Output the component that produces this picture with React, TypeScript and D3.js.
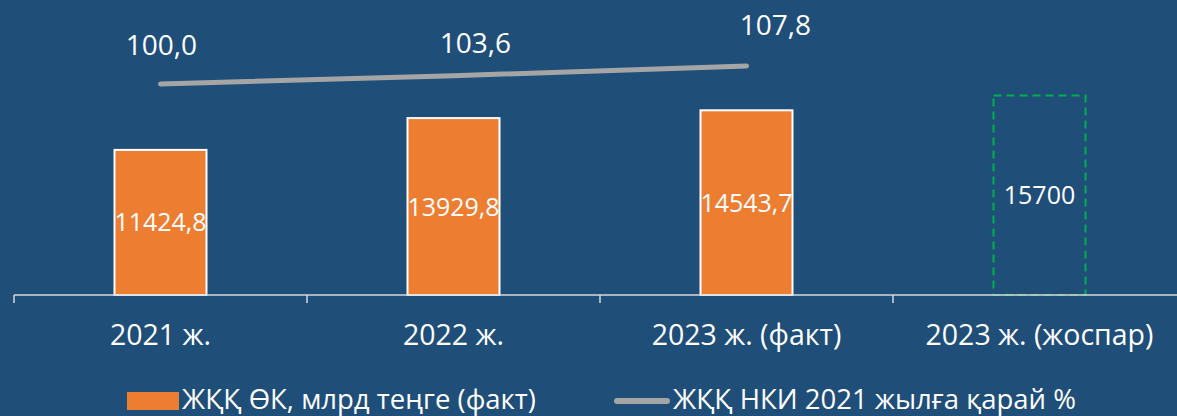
import React from "react";
import * as d3 from "d3";

const categories = ["2021 ж.", "2022 ж.", "2023 ж. (факт)", "2023 ж. (жоспар)"];
const barValues = [11424.8, 13929.8, 14543.7];
const barLabels = ["11424,8", "13929,8", "14543,7"];
const planValue = 15700;
const planLabel = "15700";
const indexValues = [100.0, 103.6, 107.8];
const indexLabels = ["100,0", "103,6", "107,8"];
const legendBar = "ЖҚҚ ӨК, млрд теңге (факт)";
const legendLine = "ЖҚҚ НКИ 2021 жылға қарай %";

const W = 1177;
const H = 416;
const FONT = "'Open Sans', 'Noto Sans', sans-serif";
const BG = "#1F4E79";
const ORANGE = "#ED7D31";
const GRAY = "#A5A5A5";
const GREEN = "#00B050";
const AXIS = "#D9D9D9";

// label offsets for line labels (dx, dy from point)
const indexLabelDx = [1, 22, 29];
const indexLabelDy = [-29, -23, -31];

export default function App() {
  const x = d3.scaleBand<string>().domain(categories).range([14, 1186]).paddingInner(0).paddingOuter(0);
  const y = d3.scaleLinear().domain([0, 20000]).range([295, 41]);
  const y2 = d3.scaleLinear().domain([90, 110]).range([107.08, 60.92]);
  const barW = 92;
  const cx = (c: string) => (x(c) as number) + x.bandwidth() / 2;

  const lineGen = d3
    .line<number>()
    .x((_, i) => cx(categories[i]))
    .y((d) => y2(d));

  const ticks = [...categories.map((c) => x(c) as number), 14 + x.bandwidth() * 4];

  return (
    <div style={{ position: "fixed", left: 0, top: 0 }}>
      <svg width={W} height={H} style={{ display: "block" }} fontFamily={FONT}>
        <rect x={0} y={0} width={W} height={H} fill={BG} />
        {/* bars */}
        {barValues.map((v, i) => {
          const c = categories[i];
          return (
            <g key={c}>
              <rect
                x={cx(c) - barW / 2}
                y={y(v)}
                width={barW}
                height={y(0) - y(v)}
                fill={ORANGE}
                stroke="#FFFFFF"
                strokeWidth={2}
              />
              <text
                x={cx(c)}
                y={(y(v) + y(0)) / 2}
                dy="0.36em"
                textAnchor="middle"
                fill="#FFFFFF"
                fontSize={25}
              >
                {barLabels[i]}
              </text>
            </g>
          );
        })}
        {/* plan bar */}
        <rect
          x={cx(categories[3]) - barW / 2}
          y={y(planValue)}
          width={barW}
          height={y(0) - y(planValue)}
          fill="none"
          stroke={GREEN}
          strokeWidth={2}
          strokeDasharray="8,5"
        />
        <text
          x={cx(categories[3])}
          y={(y(planValue) + y(0)) / 2}
          dy="0.36em"
          textAnchor="middle"
          fill="#FFFFFF"
          fontSize={25}
        >
          {planLabel}
        </text>
        {/* axis */}
        <line x1={14} x2={W} y1={y(0)} y2={y(0)} stroke={AXIS} strokeWidth={1.5} />
        {ticks.map((t, i) => (
          <line key={i} x1={t} x2={t} y1={y(0)} y2={y(0) + 8} stroke={AXIS} strokeWidth={1.5} />
        ))}
        {categories.map((c) => (
          <text key={c} x={cx(c)} y={345} textAnchor="middle" fill="#FFFFFF" fontSize={28.5}>
            {c}
          </text>
        ))}
        {/* line */}
        <path d={lineGen(indexValues) || ""} fill="none" stroke={GRAY} strokeWidth={5} strokeLinecap="round" />
        {indexValues.map((v, i) => (
          <text
            key={i}
            x={cx(categories[i]) + indexLabelDx[i]}
            y={y2(v) + indexLabelDy[i]}
            textAnchor="middle"
            fill="#FFFFFF"
            fontSize={28}
          >
            {indexLabels[i]}
          </text>
        ))}
        {/* legend */}
        <rect x={127} y={392} width={52} height={18} fill={ORANGE} />
        <text x={182} y={408.5} fill="#FFFFFF" fontSize={27.5}>
          {legendBar}
        </text>
        <line x1={617} x2={667} y1={401} y2={401} stroke={GRAY} strokeWidth={6} strokeLinecap="round" />
        <text x={673} y={408.5} fill="#FFFFFF" fontSize={27.5}>
          {legendLine}
        </text>
      </svg>
    </div>
  );
}
